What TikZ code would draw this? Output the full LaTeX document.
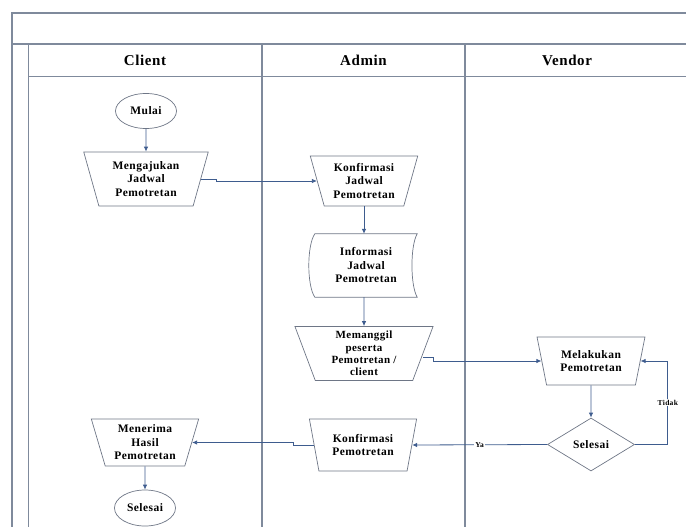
\documentclass[tikz,border=0pt]{standalone}
\usepackage{fontspec}
\setmainfont{Liberation Serif}[LetterSpace=4]
\usepackage{tikz}
\usetikzlibrary{shapes.geometric}
\usetikzlibrary{arrows.meta}

\definecolor{lanegray}{HTML}{7F8A9C}
\definecolor{boxgray}{HTML}{6E7686}
\definecolor{flowblue}{HTML}{3E5C8E}

\tikzset{
  lane/.style={draw=lanegray, line width=1.1pt},
  txt/.style={font=\fontsize{11.5}{13.5}\selectfont\bfseries, align=center, text=black},
  manual/.style={txt, trapezium, trapezium left angle=107, trapezium right angle=107, trapezium stretches=true, draw=boxgray, line width=0.7pt, inner sep=0pt},
  terminal/.style={txt, ellipse, draw=boxgray, line width=0.7pt, inner sep=0pt, minimum width=61pt, minimum height=35pt},
  decision/.style={txt, diamond, draw=boxgray, line width=0.7pt, inner sep=0pt, minimum width=87pt, minimum height=53pt},
  flow/.style={draw=flowblue, line width=0.8pt, -{Latex[length=5pt, width=4.5pt]}},
  lanehead/.style={font=\fontsize{15}{18}\selectfont\bfseries},
  cond/.style={font=\fontsize{7.5}{9}\selectfont\bfseries, fill=white, inner sep=1pt}
}

\begin{document}
\begin{tikzpicture}[x=1pt, y=-1pt]
\useasboundingbox (0,0) rectangle (686,527);
\draw[lane] (686,13) -- (12,13) -- (12,527);
\draw[lane] (12,44) -- (686,44);
\draw[lane] (28.7,44) -- (28.7,527);
\draw[lane] (28.7,76.5) -- (686,76.5);
\draw[lane] (262,44) -- (262,527);
\draw[lane] (465,44) -- (465,527);
\node[lanehead] (client) at (145,60) {Client};
\node[lanehead] (admin) at (363.5,60) {Admin};
\node[lanehead] (vendor) at (567,60) {Vendor};

\node[terminal] (mulai) at (146,111) {Mulai};
\node[manual, minimum width=125pt, minimum height=54pt] (ajukan) at (146,179) {Mengajukan\\Jadwal\\Pemotretan};
\node[manual, minimum width=108pt, minimum height=50pt] (konfjadwal) at (364,181) {Konfirmasi\\Jadwal\\Pemotretan};
\node[txt, minimum width=102pt, minimum height=63pt, inner sep=0pt] (info) at (366,265.5) {Informasi\\Jadwal\\Pemotretan};
\draw[boxgray, line width=0.7pt] (info.north west) .. controls +(-8,12) and +(-8,-12) .. (info.south west) -- (info.south east) .. controls +(-7,-12) and +(-7,12) .. (info.north east) -- cycle;
\node[manual, minimum width=139pt, minimum height=54pt, font=\fontsize{11}{12.2}\selectfont\bfseries] (panggil) at (364,353.5) {Memanggil\\peserta\\Pemotretan /\\client};
\node[manual, minimum width=108pt, minimum height=48pt] (lakukan) at (591,361) {Melakukan\\Pemotretan};
\node[decision] (keputusan) at (591,444.5) {Selesai};
\node[manual, minimum width=108pt, minimum height=52pt] (konfpotret) at (363,445) {Konfirmasi\\Pemotretan};
\node[manual, minimum width=108pt, minimum height=47pt] (terima) at (145,442.5) {Menerima\\Hasil\\Pemotretan};
\node[terminal, minimum height=36pt] (selesai) at (145,508) {Selesai};

\draw[flow] (mulai.south) -- (ajukan.north);
\draw[flow] (ajukan.east) -- ++(15,0) |- (konfjadwal.west);
\draw[flow] (konfjadwal.south) -- (konfjadwal.south |- info.north);
\draw[flow] (konfjadwal.south |- info.south) -- (panggil.north);
\draw[flow] ([yshift=-4pt]panggil.east) -- ++(10,0) |- (lakukan.west);
\draw[flow] (lakukan.south) -- (keputusan.north);
\draw[flow] (keputusan.east) -- ++(33,0) |- node[cond, pos=0.25] {Tidak} (lakukan.east);
\draw[flow] (keputusan.west) -- node[cond] {Ya} (konfpotret.east);
\draw[flow] (konfpotret.west) -- ++(-20,0) |- (terima.east);
\draw[flow] (terima.south) -- (selesai.north);
\end{tikzpicture}
\end{document}
